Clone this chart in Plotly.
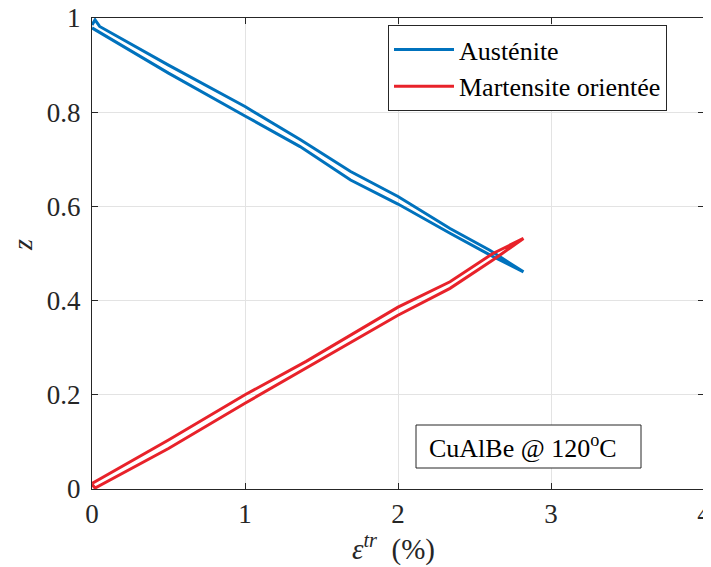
import plotly.graph_objects as go

# ---- data ----
aus_x = [0.0, 0.02, 0.05, 0.5, 1.0, 1.36, 1.69, 2.0, 2.34, 2.6, 2.82,
         2.6, 2.34, 2.0, 1.69, 1.36, 1.0, 0.5, 0.0]
aus_z = [0.985, 0.996, 0.982, 0.900, 0.812, 0.742, 0.674, 0.621, 0.553, 0.507, 0.461,
         0.497, 0.543, 0.605, 0.656, 0.727, 0.792, 0.883, 0.979]

mart_x = [0.0, 0.5, 1.0, 1.4, 2.0, 2.34, 2.62, 2.82,
          2.62, 2.34, 2.0, 1.4, 1.0, 0.5, 0.02, 0.0]
mart_z = [0.012, 0.104, 0.200, 0.271, 0.386, 0.440, 0.500, 0.532,
          0.486, 0.426, 0.369, 0.257, 0.182, 0.086, 0.002, 0.010]

series_names = ["Austénite", "Martensite orientée"]
x_ticks = [0, 1, 2, 3, 4]
y_ticks = [0, 0.2, 0.4, 0.6, 0.8, 1]
y_tick_text = ["0", "0.2", "0.4", "0.6", "0.8", "1"]
box_text = "CuAlBe @ 120<sup>o</sup>C"
x_title = "<i>ε</i><sup><i>tr</i></sup>&nbsp;&nbsp;(%)"
y_title = "<i>z</i>"

BLUE = "#0072BD"
RED = "#E8222A"
AX = "#262626"
GRID = "#E3E3E3"
SERIF = "Liberation Serif"

# page body has an 8px margin: figure is 703x559 placed at (8, 8)
OFF = 8
L, T, R, B = 92 - OFF, 18 - OFF, 7, 78
PW, PH = 612, 471  # plot area size in px


def px_x(x):
    return (x - 92) / PW


def px_y(y):
    return (489 - y) / PH


fig = go.Figure()
fig.add_trace(go.Scatter(x=aus_x, y=aus_z, mode="lines", name=series_names[0],
                         line=dict(color=BLUE, width=3)))
fig.add_trace(go.Scatter(x=mart_x, y=mart_z, mode="lines", name=series_names[1],
                         line=dict(color=RED, width=3)))

axis_common = dict(showline=True, linecolor=AX, linewidth=1, mirror="ticks",
                   ticks="inside", ticklen=6, tickcolor=AX, tickwidth=1,
                   showgrid=True, gridcolor=GRID, gridwidth=1, zeroline=False,
                   automargin=False, ticklabeloverflow="allow",
                   tickfont=dict(family=SERIF, size=27, color=AX))

fig.update_xaxes(range=[0, 4], tickvals=x_ticks, ticktext=[str(v) for v in x_ticks],
                 ticklabelstandoff=1, **axis_common)
fig.update_yaxes(range=[0, 1], tickvals=y_ticks, ticktext=y_tick_text,
                 ticklabelstandoff=5, **axis_common)

fig.update_layout(
    width=703, height=559,
    margin=dict(l=L, r=R, t=T, b=B, autoexpand=False),
    paper_bgcolor="white", plot_bgcolor="white",
    showlegend=True,
    legend=dict(x=px_x(388), y=px_y(25), xanchor="left", yanchor="top",
                bgcolor="white", bordercolor=AX, borderwidth=1,
                font=dict(family=SERIF, size=26, color="black"),
                itemwidth=60, tracegroupgap=0),
    shapes=[dict(type="rect", xref="paper", yref="paper",
                 x0=px_x(416), x1=px_x(641), y0=px_y(468), y1=px_y(425),
                 line=dict(color=AX, width=1), fillcolor="white", layer="above")],
    annotations=[
        dict(text=box_text, xref="paper", yref="paper",
             x=px_x(427), y=px_y(446), xanchor="left", yanchor="middle",
             showarrow=False, font=dict(family=SERIF, size=26, color="black")),
        dict(text=x_title, xref="paper", yref="paper",
             x=px_x(393), y=px_y(547), xanchor="center", yanchor="middle",
             showarrow=False, font=dict(family=SERIF, size=29, color=AX)),
        dict(text=y_title, xref="paper", yref="paper", textangle=-90,
             x=px_x(22), y=px_y(245), xanchor="center", yanchor="middle",
             showarrow=False, font=dict(family=SERIF, size=28, color=AX, style="italic")),
    ],
)

fig.write_html("out.html")
